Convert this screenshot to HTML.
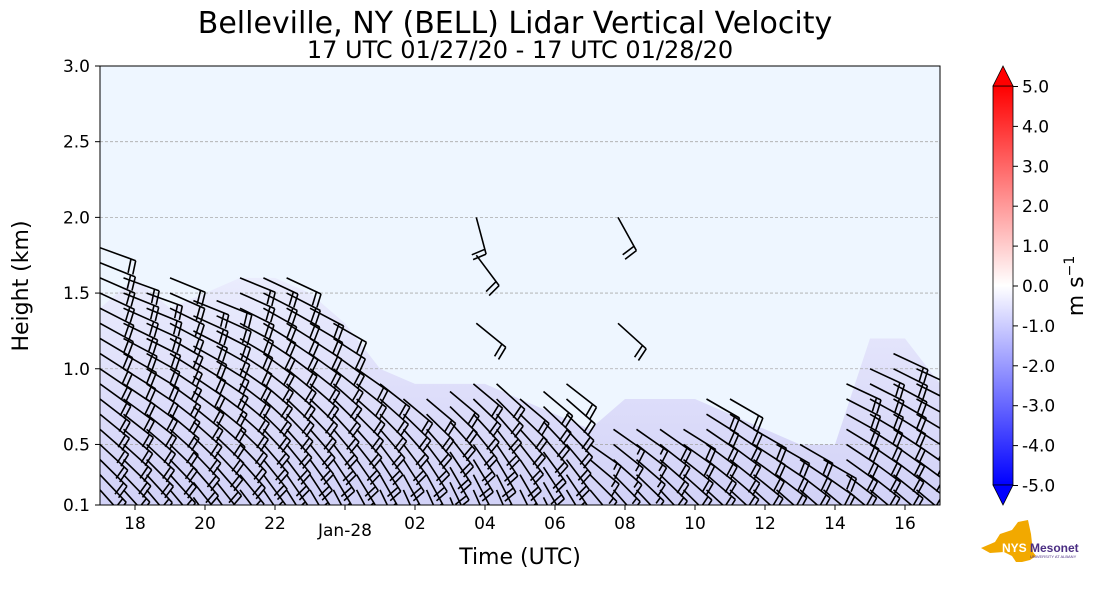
<!DOCTYPE html>
<html><head><meta charset="utf-8">
<style>
html,body{margin:0;padding:0;background:#fff;}
svg{display:block;font-family:"DejaVu Sans","Liberation Sans",sans-serif;}
</style></head>
<body>
<svg id="chart" width="1101" height="600" viewBox="0 0 1101 600">
<defs>
<linearGradient id="cbar" x1="0" y1="0" x2="0" y2="1">
<stop offset="0" stop-color="#ff0000"/><stop offset="0.25" stop-color="#ff8080"/>
<stop offset="0.5" stop-color="#ffffff"/><stop offset="0.75" stop-color="#8080ff"/>
<stop offset="1" stop-color="#0000ff"/></linearGradient>
<linearGradient id="shade" x1="0" y1="0" x2="0" y2="1">
<stop offset="0" stop-color="#eaecfd"/><stop offset="0.5" stop-color="#dedefa"/><stop offset="1" stop-color="#d2d2f7"/></linearGradient>
<clipPath id="plotclip"><rect x="100" y="66" width="840" height="439"/></clipPath>
</defs>
<text x="515" y="33" font-size="30" text-anchor="middle">Belleville, NY (BELL) Lidar Vertical Velocity</text>
<text x="520" y="58" font-size="24" text-anchor="middle">17 UTC 01/27/20 - 17 UTC 01/28/20</text>
<rect x="100" y="66" width="840" height="439" fill="#eef6ff"/>
<g id="shadeG" clip-path="url(#plotclip)"></g>
<g id="gridG"></g>
<g id="barbG" clip-path="url(#plotclip)"></g>
<rect x="100" y="66" width="840" height="439" fill="none" stroke="#000" stroke-width="1"/>
<g id="axisG" font-size="17"></g>
<text x="520" y="564" font-size="22" text-anchor="middle">Time (UTC)</text>
<text transform="translate(28,286) rotate(-90)" font-size="22" text-anchor="middle">Height (km)</text>
<g>
<rect x="993" y="86" width="20" height="399" fill="url(#cbar)" stroke="#000" stroke-width="0.8"/>
<polygon points="993,86 1013,86 1003,66" fill="#ff0000" stroke="#000" stroke-width="0.8"/>
<polygon points="993,485 1013,485 1003,505" fill="#0000ff" stroke="#000" stroke-width="0.8"/>
</g>
<g id="cbarTicks" font-size="17"></g>
<text transform="translate(1083,286) rotate(-90)" font-size="22" text-anchor="middle">m s<tspan font-size="14" dy="-9">−1</tspan></text>
<g>
<polygon points="981,548 995,542 1000,534 1012,530 1018,522 1028,520 1031,534 1033,552 1036,556 1030,560 1022,562 1016,562 1012,556 1004,552 990,553" fill="#f2a900"/>
<text x="1002" y="552" font-size="12" font-weight="bold" fill="#fff" font-family="Liberation Sans,sans-serif">NYS</text>
<text x="1030" y="552" font-size="12" font-weight="bold" fill="#4b2e83" font-family="Liberation Sans,sans-serif">Mesonet</text>
<text x="1030" y="558" font-size="4" fill="#4b2e83" font-family="Liberation Sans,sans-serif">UNIVERSITY AT ALBANY</text>
</g>
</svg>
<script>
// ---- data ----
const yTicks = [0.1, 0.5, 1.0, 1.5, 2.0, 2.5, 3.0];
const xTickHours = [1, 3, 5, 7, 9, 11, 13, 15, 17, 19, 21, 23];
const xTickLabels = ["18","20","22","Jan-28","02","04","06","08","10","12","14","16"];
const cbarTicks = [5,4,3,2,1,0,-1,-2,-3,-4,-5];
const shadeHours = [0,1,2,3,4,5,6,7,8,9,10,11,12,13,14,15,16,17,18,19,20,21,22,23,24];
const shadeTop = [1.4,1.6,1.4,1.5,1.6,1.6,1.5,1.3,1.0,0.9,0.9,0.9,0.8,0.7,0.6,0.8,0.8,0.8,0.7,0.6,0.5,0.5,1.2,1.2,0.9];
const colHours = [0,0.67,1.33,2,2.67,3.33,4,4.67,5.33,6,6.67,7.33,8,8.67,9.33,10,10.67,11.33,12,12.67,13.33,14,14.67,15.33,16,16.67,17.33,18,18.67,19.33,20,20.67,21.33,22,22.67,23.33];
const colTop = [1.8,1.6,1.5,1.6,1.45,1.45,1.6,1.6,1.6,1.4,1.3,1.0,0.9,0.8,0.8,0.85,0.9,0.9,0.8,0.85,0.9,0.5,0.6,0.6,0.6,0.6,0.8,0.8,0.6,0.5,0.5,0.4,0.9,1.0,1.1,1.0];
const colDirTop = [110,110,110,112,112,112,112,115,115,118,120,125,128,130,130,130,130,132,130,130,128,125,125,125,125,122,120,120,120,120,120,120,115,115,115,115];
const colDirBottom = [140,140,142,142,145,145,145,148,150,152,155,155,158,160,160,160,160,160,158,155,152,145,142,140,140,138,135,135,135,135,135,135,132,132,132,132];
const colSpeed = [20,20,20,20,20,20,20,20,20,20,20,20,20,20,20,20,20,20,20,20,20,15,15,15,20,20,20,20,20,20,20,20,20,20,20,20];
const aloftHours = [10.75,10.75,10.75,14.8,14.8];
const aloftHeights = [2.0,1.75,1.3,2.0,1.3];
const aloftDir = [165,143,129,151,132];
const aloftSpeed = [20,20,20,20,20];

// ---- scales ----
const X0=100, PX_PER_H=35, Y0=505, PX_PER_KM=(505-66)/2.9;
const xs = h => X0 + h*PX_PER_H;
const ys = km => Y0 - (km-0.1)*PX_PER_KM;
const NS="http://www.w3.org/2000/svg";
function mk(tag, attrs, parent){const e=document.createElementNS(NS,tag);for(const k in attrs)e.setAttribute(k,attrs[k]);parent.appendChild(e);return e;}

const shadeG=document.getElementById('shadeG');
let pts=[xs(shadeHours[0])+","+Y0];
shadeHours.forEach((h,i)=>pts.push(xs(h)+","+ys(shadeTop[i])));
pts.push(xs(shadeHours[shadeHours.length-1])+","+Y0);
const poly=mk('polygon',{points:pts.join(' '),fill:'url(#shade)'},shadeG);



const gridG=document.getElementById('gridG'), axisG=document.getElementById('axisG');
yTicks.forEach(v=>{
  const y=ys(v);
  if(v>0.1 && v<3.0){const g=mk('line',{x1:100,x2:940,y1:y,y2:y,stroke:'#aaa','stroke-dasharray':'3,2','stroke-width':0.8},gridG);
  }
  mk('line',{x1:95,x2:100,y1:y,y2:y,stroke:'#000'},axisG);
  const t=mk('text',{x:90,y:y+6,'text-anchor':'end'},axisG);t.textContent=v.toFixed(1);
  
});
xTickHours.forEach((h,i)=>{
  const x=xs(h);
  mk('line',{x1:x,x2:x,y1:505,y2:510,stroke:'#000'},axisG);
  const t=mk('text',{x:x,y:xTickLabels[i]==="Jan-28"?536:529,'text-anchor':'middle'},axisG);t.textContent=xTickLabels[i];
  
});
const cb=document.getElementById('cbarTicks');
cbarTicks.forEach(v=>{
  const y=286-v*39.9;
  mk('line',{x1:1013,x2:1018,y1:y,y2:y,stroke:'#000'},cb);
  const t=mk('text',{x:1022,y:y+6},cb);t.textContent=v.toFixed(1);
  
});

const barbG=document.getElementById('barbG');
function barb(h,km,dir,spd){
  const x=xs(h), y=ys(km), L=38, a=dir*Math.PI/180;
  const dx=Math.sin(a), dy=-Math.cos(a);
  const ex=x+dx*L, ey=y+dy*L;
  let d=`M${x.toFixed(1)},${y.toFixed(1)}L${ex.toFixed(1)},${ey.toFixed(1)}`;
  const px=-dy, py=dx;
  let n10=Math.floor(spd/10), n5=(spd%10)>=5?1:0, pos=0;
  for(let i=0;i<n10;i++){const bx=ex-dx*pos, by=ey-dy*pos;
    d+=`M${bx.toFixed(1)},${by.toFixed(1)}L${(bx+px*14+dx*2).toFixed(1)},${(by+py*14+dy*2).toFixed(1)}`; pos+=5;}
  if(n5){if(pos===0)pos=5;const bx=ex-dx*pos, by=ey-dy*pos;d+=`M${bx.toFixed(1)},${by.toFixed(1)}L${(bx+px*7+dx).toFixed(1)},${(by+py*7+dy).toFixed(1)}`;}
  const p=mk('path',{d:d,stroke:'#000','stroke-width':1.6,fill:'none'},barbG);
  
  
}
colHours.forEach((h,i)=>{
  const top=colTop[i];
  for(let k=top;k>=0.1;k-=0.1){
    const f=(k-0.1)/Math.max(top-0.1,0.1);
    const dir=colDirBottom[i]+(colDirTop[i]-colDirBottom[i])*f;
    barb(h,k,dir,colSpeed[i]);
  }
});
aloftHours.forEach((h,i)=>barb(h,aloftHeights[i],aloftDir[i],aloftSpeed[i]));
</script>
</body></html>
